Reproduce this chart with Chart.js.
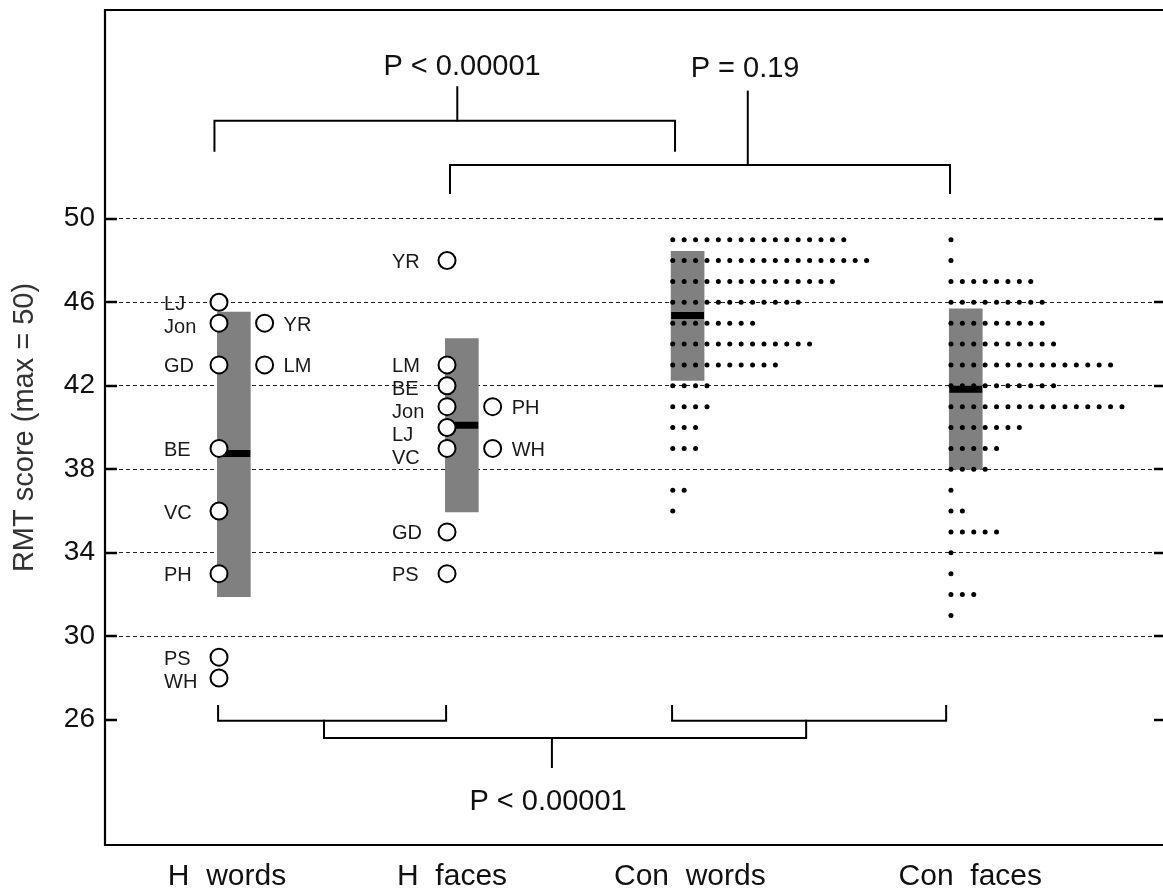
<!DOCTYPE html>
<html><head><meta charset="utf-8">
<script src="https://cdn.jsdelivr.net/npm/chart.js@4/dist/chart.umd.min.js"></script>
<style>html,body{margin:0;padding:0;background:#fff;overflow:hidden}#wrap{width:1163px;height:891px}</style>
</head><body><div id="wrap"><canvas id="c" width="1163" height="891"></canvas></div>
<script>
// ---------- data ----------
const categories = ['H  words', 'H  faces', 'Con  words', 'Con  faces'];
const categoryX = [1, 2, 2.99, 4.21];
const yTickValues = [26, 30, 34, 38, 42, 46, 50];

const hWordsLeftNames   = ['LJ', 'Jon', 'GD', 'BE', 'VC', 'PH', 'PS', 'WH'];
const hWordsLeftScores  = [46, 45, 43, 39, 36, 33, 29, 28];
const hWordsRightNames  = ['YR', 'LM'];
const hWordsRightScores = [45, 43];
const hFacesLeftNames   = ['YR', 'LM', 'BE', 'Jon', 'LJ', 'VC', 'GD', 'PS'];
const hFacesLeftScores  = [48, 43, 42, 41, 40, 39, 35, 33];
const hFacesRightNames  = ['PH', 'WH'];
const hFacesRightScores = [41, 39];

const conWordsLevels = [49, 48, 47, 46, 45, 44, 43, 42, 41, 40, 39, 38, 37, 36];
const conWordsCounts = [16, 18, 15, 12, 8, 13, 10, 4, 4, 3, 3, 0, 2, 1];
const conFacesLevels = [49, 48, 47, 46, 45, 44, 43, 42, 41, 40, 39, 38, 37, 36, 35, 34, 33, 32, 31];
const conFacesCounts = [1, 1, 8, 9, 9, 10, 15, 10, 16, 7, 5, 4, 1, 2, 5, 1, 1, 3, 1];

const rangeLow    = [31.9, 35.96, 42.26, 37.99];
const rangeHigh   = [45.53, 44.26, 48.44, 45.69];
const rangeMedian = [38.76, 40.11, 45.37, 41.83];

const pLabels = ['P < 0.00001', 'P = 0.19', 'P < 0.00001'];

// ---------- build ----------
const BAR_SHIFT = 0.065, BAR_HALF = 0.072, DOT_STEP = 0.05, SECOND_COL = 0.2;

function circles(names, scores, gx) {
  return scores.map((s, i) => ({x: gx, y: s, name: names[i]}));
}
function dots(levels, counts, gx) {
  const out = [];
  levels.forEach((lv, i) => { for (let k = 0; k < counts[i]; k++) out.push({x: gx + k * DOT_STEP, y: lv}); });
  return out;
}
const medianData = [];
categories.forEach((c, i) => {
  const cx = categoryX[i] + BAR_SHIFT;
  medianData.push({x: cx - BAR_HALF, y: rangeMedian[i]}, {x: cx + BAR_HALF, y: rangeMedian[i]}, {x: cx + BAR_HALF, y: null});
});

const leftCircles = [
  circles(hWordsLeftNames, hWordsLeftScores, categoryX[0]),
  circles(hFacesLeftNames, hFacesLeftScores, categoryX[1])
];
const rightCircles = [
  circles(hWordsRightNames, hWordsRightScores, categoryX[0] + SECOND_COL),
  circles(hFacesRightNames, hFacesRightScores, categoryX[1] + SECOND_COL)
];

const lineStyle = {type: 'line', borderColor: '#000', borderWidth: 2, pointRadius: 0, fill: false, order: 6, clip: false, borderCapStyle: 'square'};
const brackets = [
  [[0.98, 53.26], [0.98, 54.70], [3.0, 54.70], [3.0, 53.26]],
  [[2.045, 54.70], [2.045, 56.30]],
  [[2.013, 51.23], [2.013, 52.575], [4.206, 52.575], [4.206, 51.23]],
  [[3.319, 52.575], [3.319, 56.09]],
  [[0.996, 26.66], [0.996, 25.95], [1.996, 25.95], [1.996, 26.66]],
  [[2.987, 26.66], [2.987, 25.95], [4.189, 25.95], [4.189, 26.66]],
  [[1.4605, 25.95], [1.4605, 25.13], [3.575, 25.13], [3.575, 25.95]],
  [[2.46, 25.13], [2.46, 23.74]]
];
const pLabelPos = [[2.066, 56.89], [3.307, 56.79], [2.443, 21.68]];

const datasets = [
  {type: 'bar', data: categories.map((c, i) => ({x: categoryX[i] + BAR_SHIFT, y: [rangeLow[i], rangeHigh[i]]})),
   backgroundColor: '#808080', barThickness: 33, order: 10, grouped: false},
  {type: 'line', data: medianData, borderColor: '#000', borderWidth: 7, pointRadius: 0, spanGaps: false, order: 5, borderCapStyle: 'butt'},
  ...brackets.map(b => Object.assign({}, lineStyle, {data: b.map(p => ({x: p[0], y: p[1]}))})),
  {type: 'scatter', data: dots(conWordsLevels, conWordsCounts, categoryX[2]), pointRadius: 2.5, backgroundColor: '#000', borderWidth: 0, order: 2},
  {type: 'scatter', data: dots(conFacesLevels, conFacesCounts, categoryX[3]), pointRadius: 2.5, backgroundColor: '#000', borderWidth: 0, order: 2},
  ...leftCircles.concat(rightCircles).map(d => ({type: 'scatter', data: d, pointRadius: 8.5, backgroundColor: '#fff', borderColor: '#000', borderWidth: 2, order: 1}))
];

const FONT = "'Liberation Sans', Arial, sans-serif";

const decor = {
  id: 'decor',
  afterDraw(chart) {
    const {ctx, chartArea: a, scales: {x, y}} = chart;
    ctx.save();
    // frame
    ctx.strokeStyle = '#000'; ctx.lineWidth = 2.2;
    ctx.beginPath();
    ctx.moveTo(a.right + 2, a.top); ctx.lineTo(a.left, a.top); ctx.lineTo(a.left, a.bottom); ctx.lineTo(a.right + 2, a.bottom);
    ctx.stroke();
    // inward ticks
    ctx.lineWidth = 2.5;
    yTickValues.forEach(v => {
      const py = Math.round(y.getPixelForValue(v));
      ctx.beginPath(); ctx.moveTo(a.left, py); ctx.lineTo(a.left + 12, py); ctx.stroke();
      ctx.beginPath(); ctx.moveTo(a.right - 9, py); ctx.lineTo(a.right, py); ctx.stroke();
    });
    // category labels
    ctx.fillStyle = '#111'; ctx.font = '30px ' + FONT; ctx.textAlign = 'center'; ctx.textBaseline = 'alphabetic';
    const labelShift = [-0.03, -0.043, 0.01, 0.02];
    categories.forEach((c, i) => {
      ctx.fillText(c, x.getPixelForValue(categoryX[i] + BAR_SHIFT + labelShift[i]), 885);
    });
    // p-values
    ctx.font = '29px ' + FONT;
    pLabels.forEach((t, i) => ctx.fillText(t, x.getPixelForValue(pLabelPos[i][0]), y.getPixelForValue(pLabelPos[i][1])));
    // circle labels
    ctx.font = '20px ' + FONT; ctx.textBaseline = 'middle'; ctx.fillStyle = '#1a1a1a';
    leftCircles.forEach(col => {
      let prev = -1e9;
      col.slice().sort((p, q) => q.y - p.y).forEach(p => {
        let py = Math.max(y.getPixelForValue(p.y) + 2, prev + 23);
        prev = py;
        ctx.textAlign = 'left';
        ctx.fillText(p.name, x.getPixelForValue(p.x) - 55, py);
      });
    });
    rightCircles.forEach(col => col.forEach(p => {
      ctx.textAlign = 'left';
      ctx.fillText(p.name, x.getPixelForValue(p.x) + 19, y.getPixelForValue(p.y) + 2);
    }));
    ctx.restore();
  }
};

new Chart(document.getElementById('c'), {
  type: 'scatter',
  data: {datasets},
  options: {
    responsive: false, animation: false, events: [],
    layout: {autoPadding: false, padding: {top: 10, left: 0, right: 0, bottom: 0}},
    plugins: {legend: {display: false}, tooltip: {enabled: false}},
    scales: {
      x: {type: 'linear', min: 0.5, max: 5.14, offset: false,
          ticks: {display: false}, grid: {display: false, offset: false}, border: {display: false},
          afterFit: s => { s.height = 46; s.paddingLeft = 0; s.paddingRight = 0; }},
      y: {type: 'linear', min: 20, max: 60,
          afterBuildTicks: s => { s.ticks = yTickValues.map(v => ({value: v})); },
          afterFit: s => { s.width = 105; s.paddingTop = 0; s.paddingBottom = 0; },
          ticks: {font: {family: FONT, size: 28}, color: '#111', padding: 10},
          grid: {drawTicks: false, lineWidth: 1,
                 color: c => (c.tick && c.tick.value === 26) ? 'rgba(0,0,0,0)' : '#222'},
          border: {display: false, dash: [4, 3]},
          title: {display: true, text: 'RMT score (max = 50)', font: {family: FONT, size: 29}, color: '#333', padding: {top: 8, bottom: 0}}}
    }
  },
  plugins: [decor]
});
</script></body></html>
